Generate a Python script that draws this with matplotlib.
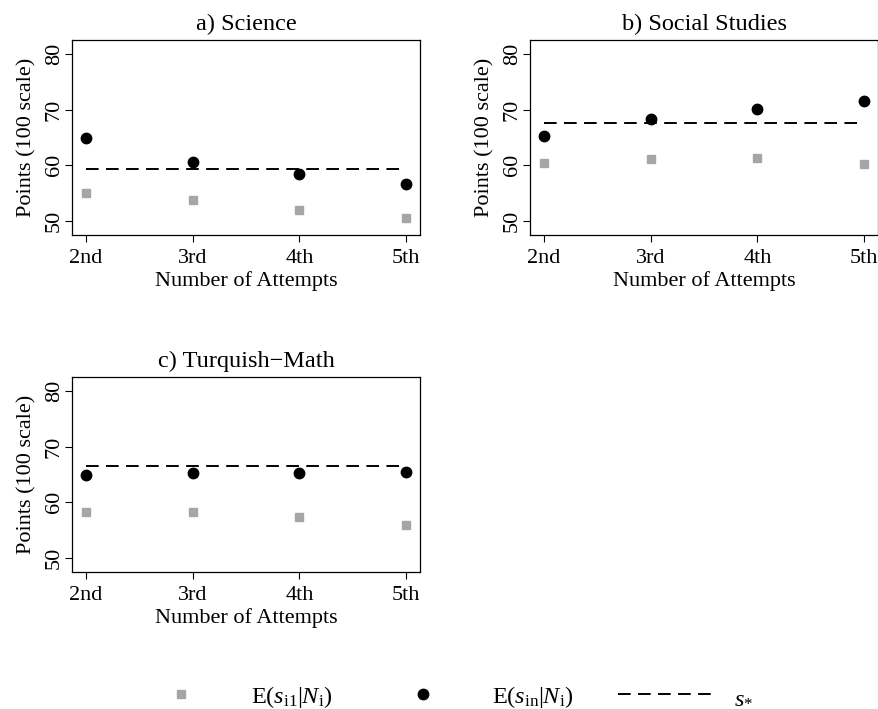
import matplotlib
matplotlib.use("Agg")
import matplotlib.pyplot as plt
from matplotlib.lines import Line2D

plt.rcParams['font.family'] = ['Liberation Serif', 'DejaVu Serif']
plt.rcParams['mathtext.fontset'] = 'custom'
plt.rcParams['mathtext.rm'] = 'Liberation Serif'
plt.rcParams['mathtext.it'] = 'Liberation Serif:italic'

# data
attempts = ["2nd", "3rd", "4th", "5th"]
titles = ["a) Science", "b) Social Studies", "c) Turquish\u2212Math"]

first_sci = [55.1, 53.8, 51.9, 50.5]
nth_sci = [64.85, 60.55, 58.5, 56.7]
star_sci = 59.4

first_soc = [60.4, 61.1, 61.3, 60.3]
nth_soc = [65.2, 68.3, 70.2, 71.5]
star_soc = 67.6

first_tm = [58.2, 58.3, 57.4, 55.9]
nth_tm = [64.9, 65.3, 65.3, 65.5]
star_tm = 66.5

panels = [(first_sci, nth_sci, star_sci),
          (first_soc, nth_soc, star_soc),
          (first_tm, nth_tm, star_tm)]

fig = plt.figure(figsize=(8.79, 7.09), dpi=100)
W, H = 879, 709
boxes = [(72, 40), (530, 40), (72, 377)]  # left, top in px
aw, ah = 348, 195

x = [2, 3, 4, 5]
for (left, top), title, (first, nth, star) in zip(boxes, titles, panels):
    ax = fig.add_axes([left / W, (H - top - ah) / H, aw / W, ah / H])
    ax.plot(x, first, 's', color='#a6a6a6', markersize=6, zorder=3)
    ax.plot(x, nth, 'o', color='black', markersize=7.5, zorder=3)
    ax.plot([x[0], x[-1]], [star, star], color='black', lw=1.4, dashes=(6.5, 3.8))
    ax.set_xlim(1.87, 5.13)
    ax.set_ylim(47.5, 82.5)
    ax.set_xticks(x)
    ax.set_xticklabels(attempts)
    ax.set_yticks([50, 60, 70, 80])
    ax.set_yticklabels(['50', '60', '70', '80'], rotation=90, va='center')
    ax.tick_params(direction='out', length=5, labelsize=16, width=0.8)
    ax.tick_params(axis='x', pad=5)
    ax.tick_params(axis='y', pad=1)
    ax.set_xlabel('Number of Attempts', fontsize=16, labelpad=2)
    ax.set_ylabel('Points (100 scale)', fontsize=16, labelpad=6)
    ax.set_title(title, fontsize=17.5, pad=7.5)
    for s in ax.spines.values():
        s.set_linewidth(0.9)

handles = [Line2D([], [], ls='none', marker='s', color='#a6a6a6', markersize=6),
           Line2D([], [], ls='none', marker='o', color='black', markersize=7.5),
           Line2D([], [], color='black', lw=1.4, dashes=(6.5, 3.8))]
labels = [r'E($s_{\mathrm{i1}}|N_{\mathrm{i}}$)',
          r'E($s_{\mathrm{in}}|N_{\mathrm{i}}$)',
          r'$s_{*}$']
fig.legend(handles, labels, loc='center left', bbox_to_anchor=(134 / W, 1 - 697 / H),
           ncol=3, frameon=False, fontsize=17.5, handlelength=3.9, handletextpad=0.9,
           columnspacing=1.8, borderpad=0, borderaxespad=0)

fig.savefig('out.png', dpi=100)
